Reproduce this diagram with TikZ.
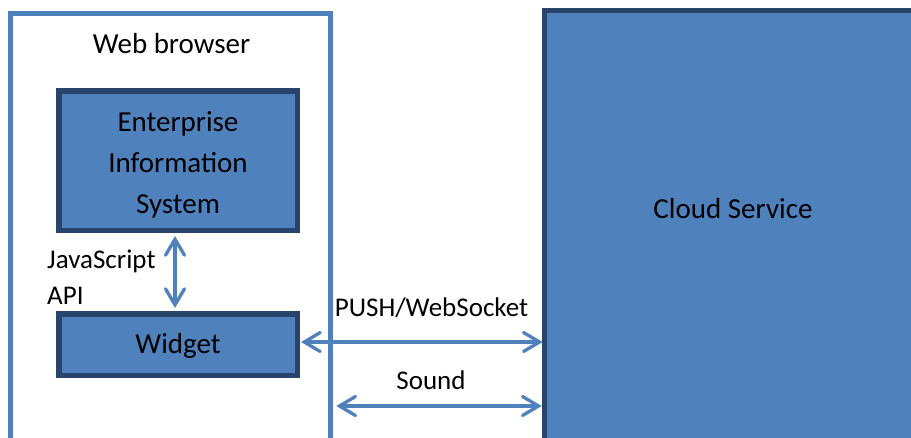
\documentclass[tikz,border=0pt]{standalone}
\usepackage{fontspec}
\setmainfont{Carlito}
\usetikzlibrary{arrows.meta}
\definecolor{fillblue}{HTML}{4F81BD}
\definecolor{darkblue}{HTML}{28446A}
\tikzset{
  sysbox/.style={draw=darkblue, line width=5.5pt, fill=fillblue, inner sep=0pt},
  frame/.style={draw=fillblue, line width=4.5pt, inner sep=0pt},
  tipb/.tip={Straight Barb[length=16pt,width=19pt,line cap=round]},
  arr/.style={draw=fillblue, line width=3.3pt, tipb-tipb},
  txt/.style={font=\fontsize{29}{41}\selectfont, inner sep=0pt, text=black},
  smalltxt/.style={font=\fontsize{27}{36}\selectfont, inner sep=0pt, text=black},
}
\begin{document}
\begin{tikzpicture}[x=1pt,y=-1pt]
\useasboundingbox (0,0) rectangle (911,437);
\clip (0,0) rectangle (911,437);
\node[frame, anchor=north, minimum width=320pt, minimum height=470pt] (browser) at (170.5,11.25) {};
\node[sysbox, anchor=north west, minimum width=400pt, minimum height=470pt] (cloud) at (541.75,7.75) {};
\node[sysbox, minimum width=238.5pt, minimum height=139.5pt] (eis) at (178,160.5) {};
\node[txt, align=center] (eistext) at (178,165) {Enterprise\\Information\\System};
\node[sysbox, minimum width=238.5pt, minimum height=61.5pt] (widget) at (178,344.5) {};
\node[txt, anchor=base] (wlabel) at (178,353) {Widget};
\node[txt, anchor=base] (blabel) at (171.5,53) {Web browser};
\node[txt, anchor=base] (clabel) at (733,218) {Cloud Service};
\node[smalltxt, anchor=base west] (js) at (47,268) {JavaScript};
\node[smalltxt, anchor=base west] (api) at (47,304) {API};
\node[smalltxt, anchor=base] (push) at (431.5,316.7) {PUSH/WebSocket};
\node[smalltxt, anchor=base] (sound) at (431,389) {Sound};
\coordinate (sy) at (0,406);
\draw[arr, shorten <=3pt, shorten >=3pt] ([xshift=-3pt]eis.south) -- ([xshift=-3pt]widget.north);
\draw[arr] ([xshift=1pt,yshift=2.5pt]widget.east) -- ([xshift=1pt,yshift=2.5pt]widget.east -| cloud.west);
\draw[arr] ([xshift=3.5pt]browser.east |- sy) -- (sy -| cloud.west);
\end{tikzpicture}
\end{document}
